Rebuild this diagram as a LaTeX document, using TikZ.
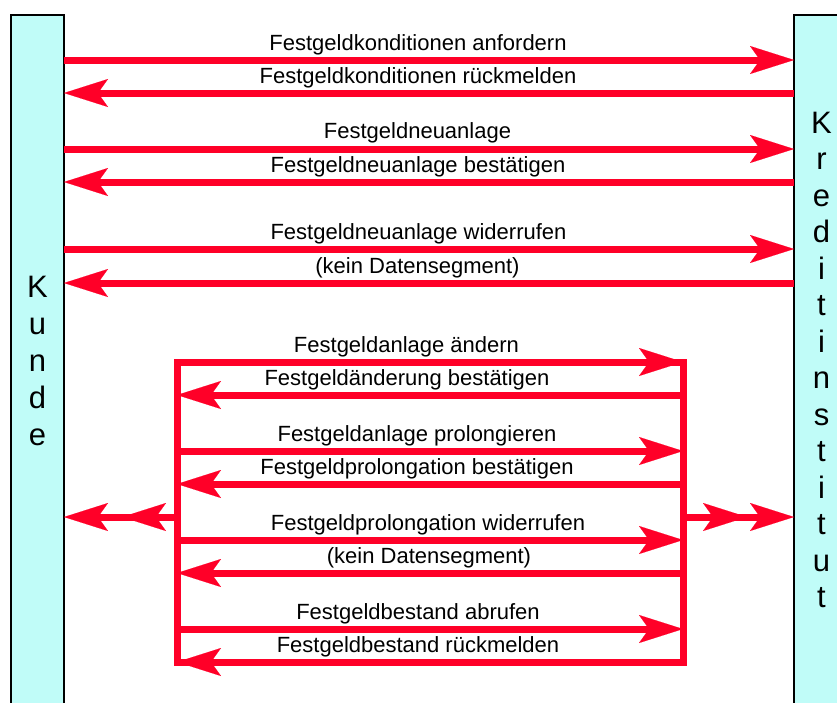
\documentclass[tikz,border=0pt]{standalone}
\usepackage{fontspec}
\setmainfont{Liberation Sans}
\usetikzlibrary{arrows.meta}

\definecolor{msgred}{RGB}{255,0,40}
\definecolor{colcyan}{RGB}{192,252,248}

\tikzset{
  col/.style={draw=black, line width=2.5pt, fill=colcyan, minimum width=53pt,
    minimum height=720pt, anchor=north west, outer sep=0pt, inner sep=0pt},
  letter/.style={font=\fontsize{31}{31}\selectfont, anchor=base, inner sep=0pt},
  lbl/.style={font=\fontsize{22}{25}\selectfont, anchor=base, inner sep=0pt},
  msg/.style={draw=msgred, line width=7pt,
    -{Stealth[length=44pt, width=28pt, inset=10pt, line width=0.1pt]}},
  frame/.style={draw=msgred, line width=7pt, minimum width=506pt, minimum height=300pt,
    anchor=north west, outer sep=0pt, inner sep=0pt},
}

\begin{document}
\begin{tikzpicture}[x=1pt, y=-1pt]
  \useasboundingbox (0,0) rectangle (837,702);

  % the two parties
  \node[col] (kunde)    at (11,15)  {};
  \node[col] (institut) at (794,15) {};

  \foreach \c [count=\i] in {K,u,n,d,e}
    \node[letter] (k\i) at (37.5,{297+37*(\i-1)}) {\c};
  \foreach \c [count=\i] in {K,r,e,d,i,t,i,n,s,t,i,t,u,t}
    \node[letter] (i\i) at (821.5,{133+36.5*(\i-1)}) {\c};

  % direct messages
  \draw[msg] (kunde.east |- 0,60)     -- (institut.west |- 0,60);
  \draw[msg] (institut.west |- 0,93)  -- (kunde.east |- 0,93);
  \draw[msg] (kunde.east |- 0,149)    -- (institut.west |- 0,149);
  \draw[msg] (institut.west |- 0,182) -- (kunde.east |- 0,182);
  \draw[msg] (kunde.east |- 0,249)    -- (institut.west |- 0,249);
  \draw[msg] (institut.west |- 0,283) -- (kunde.east |- 0,283);

  \node[lbl] (l1) at (418,50)    {Festgeldkonditionen anfordern};
  \node[lbl] (l2) at (418,83)    {Festgeldkonditionen rückmelden};
  \node[lbl] (l3) at (417.5,138) {Festgeldneuanlage};
  \node[lbl] (l4) at (418,172)   {Festgeldneuanlage bestätigen};
  \node[lbl] (l5) at (418.5,239) {Festgeldneuanlage widerrufen};
  \node[lbl] (l6) at (417.5,273) {(kein Datensegment)};

  % grouped messages
  \node[frame] (box) at (177,362) {};
  \draw[msg] (box.north west)     -- (box.north east);
  \draw[msg] (box.east |- 0,395)  -- (box.west |- 0,395);
  \draw[msg] (box.west |- 0,451)  -- (box.east |- 0,451);
  \draw[msg] (box.east |- 0,484)  -- (box.west |- 0,484);
  \draw[msg] (box.west |- 0,540)  -- (box.east |- 0,540);
  \draw[msg] (box.east |- 0,573)  -- (box.west |- 0,573);
  \draw[msg] (box.west |- 0,629)  -- (box.east |- 0,629);
  \draw[msg] (box.south east)     -- (box.south west);

  \node[lbl] (l7)  at (406.5,352) {Festgeldanlage ändern};
  \node[lbl] (l8)  at (407,385)   {Festgeldänderung bestätigen};
  \node[lbl] (l9)  at (417,441)   {Festgeldanlage prolongieren};
  \node[lbl] (l10) at (417,474)   {Festgeldprolongation bestätigen};
  \node[lbl] (l11) at (428,530)   {Festgeldprolongation widerrufen};
  \node[lbl] (l12) at (429,563)   {(kein Datensegment)};
  \node[lbl] (l13) at (418,619)   {Festgeldbestand abrufen};
  \node[lbl] (l14) at (418,652)   {Festgeldbestand rückmelden};

  % box to both sides
  \coordinate (lmid) at (122,517);
  \coordinate (rmid) at (747,517);
  \draw[msg] (box.west |- 0,517) -- (kunde.east |- 0,517);
  \draw[msg] (box.west |- 0,517) -- (lmid);
  \draw[msg] (box.east |- 0,517) -- (institut.west |- 0,517);
  \draw[msg] (box.east |- 0,517) -- (rmid);
\end{tikzpicture}
\end{document}
